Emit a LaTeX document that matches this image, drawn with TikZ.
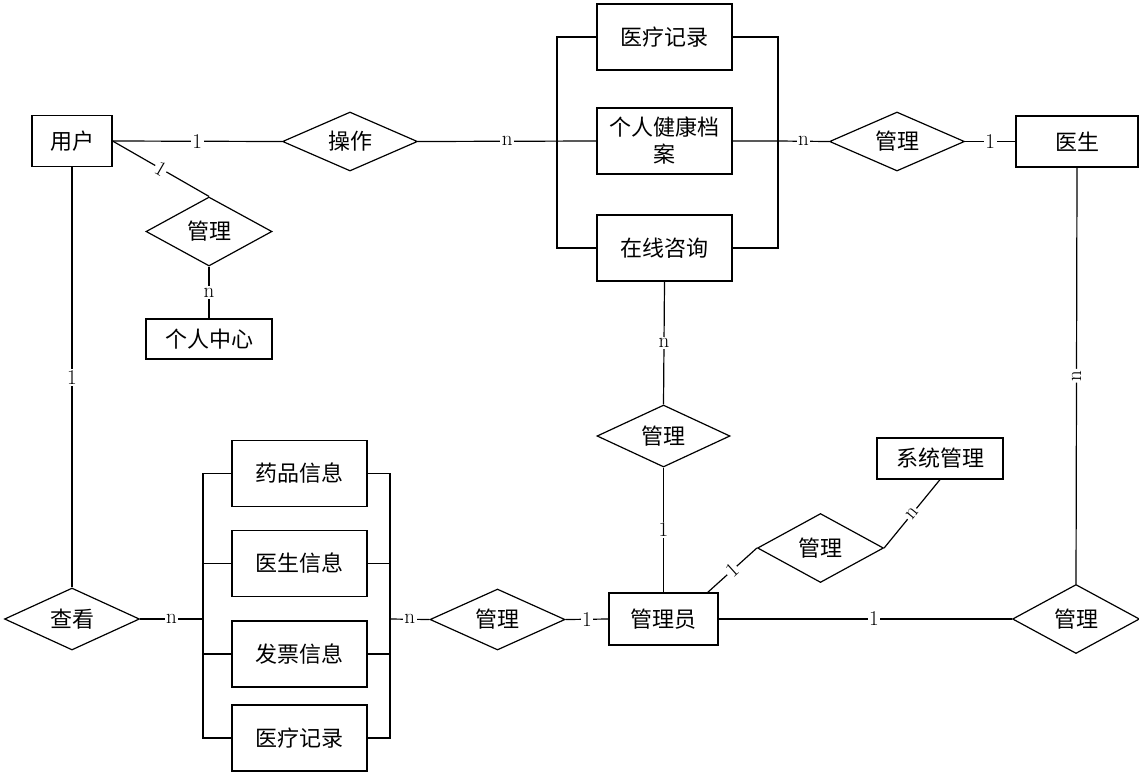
\documentclass[tikz,border=0pt]{standalone}
\usepackage{fontspec}
\newfontfamily\cjk{Noto Sans CJK SC}
\usetikzlibrary{shapes.geometric}
\begin{document}
\begin{tikzpicture}[x=1pt,y=-1pt,line width=1.2pt,
  ent/.style={draw,rectangle,inner sep=0pt,align=center,font=\cjk\fontsize{22}{27}\selectfont},
  bigd/.style={draw,diamond,aspect=2.2,inner sep=0pt,minimum width=135pt,minimum height=61pt,font=\cjk\fontsize{22}{27}\selectfont},
  smalld/.style={draw,diamond,aspect=1.8,inner sep=0pt,minimum width=126pt,minimum height=69pt,font=\cjk\fontsize{22}{27}\selectfont},
  lab/.style={fill=white,inner sep=1.5pt,font=\fontsize{21}{22}\selectfont}]
\useasboundingbox[fill=white] (0,0) rectangle (1139,772);
% entities
\node[ent,minimum width=80pt,minimum height=51pt] (yh) at (72,141) {用户};
\node[ent,minimum width=122pt,minimum height=51pt] (ys) at (1077,141.5) {医生};
\node[ent,minimum width=135pt,minimum height=66pt] (ylA) at (664.5,37) {医疗记录};
\node[ent,minimum width=135pt,minimum height=66pt] (jk) at (664.5,141) {个人健康档\\案};
\node[ent,minimum width=135pt,minimum height=66pt] (zx) at (664.5,248) {在线咨询};
\node[ent,minimum width=126pt,minimum height=40pt] (grzx) at (209,339) {个人中心};
\node[ent,minimum width=135pt,minimum height=66pt] (yp) at (299.5,473.5) {药品信息};
\node[ent,minimum width=135pt,minimum height=66pt] (ysxx) at (299.5,563.5) {医生信息};
\node[ent,minimum width=135pt,minimum height=66pt] (fp) at (299.5,654) {发票信息};
\node[ent,minimum width=135pt,minimum height=66pt] (ylB) at (299.5,738) {医疗记录};
\node[ent,minimum width=109pt,minimum height=52pt] (gly) at (663.5,619) {管理员};
\node[ent,minimum width=126pt,minimum height=41pt] (xt) at (940,458.5) {系统管理};
% relations
\node[bigd,minimum height=59pt] (cz) at (350,141.5) {操作};
\node[bigd,minimum height=59pt] (glD) at (897,141.5) {管理};
\node[smalld] (glU) at (209,231.5) {管理};
\node[bigd,minimum height=62pt] (ck) at (72,619) {查看};
\node[bigd] (glB) at (497.5,619.5) {管理};
\node[bigd,minimum height=62pt,minimum width=133pt] (glM) at (663.5,436) {管理};
\node[smalld] (glS) at (820.5,548) {管理};
\node[smalld,minimum width=127pt] (glR) at (1076,619) {管理};
% coordinates
\coordinate (tl) at (557,141);
\coordinate (tr) at (778,141);
\coordinate (bl) at (203,619);
\coordinate (br) at (390,619);
\coordinate (glyc) at (707,593);
% top group brackets
\draw (ylA.west) -| (tl) |- (zx.west);
\draw (ylA.east) -| (tr) |- (zx.east);
% bottom group brackets
\draw (yp.west) -| (bl) |- (ylB.west);
\draw (ysxx.west) -- (ysxx.west -| bl);
\draw (fp.west) -- (fp.west -| bl);
\draw (yp.east) -| (br) |- (ylB.east);
\draw (ysxx.east) -- (ysxx.east -| br);
\draw (fp.east) -- (fp.east -| br);
% connectors
\draw (yh.east) -- node[lab]{1} (cz.west);
\draw (cz.east) -- node[lab]{n} (jk.west);
\draw (jk.east) -- (tr) -- node[lab]{n} (glD.west);
\draw (glD.east) -- node[lab]{1} (ys.west);
\draw (yh.east) -- node[lab,sloped]{1} (glU.north);
\draw (glU.south) -- node[lab]{n} (grzx.north);
\draw (yh.south) -- node[lab]{1} (ck.north);
\draw (ck.east) -- node[lab]{n} (bl);
\draw (br) -- node[lab]{n} (glB.west);
\draw (glB.east) -- node[lab]{1} (gly.west);
\draw (zx.south) -- node[lab]{n} (glM.north);
\draw (glM.south) -- node[lab]{1} (gly.north);
\draw (gly.east) -- node[lab,pos=0.53]{1} (glR.west);
\draw (ys.south) -- node[lab,sloped]{n} (glR.north);
\draw (glyc) -- node[lab,sloped]{1} (glS.west);
\draw (glS.east) -- node[lab,sloped]{n} (xt.south);
\end{tikzpicture}
\end{document}
